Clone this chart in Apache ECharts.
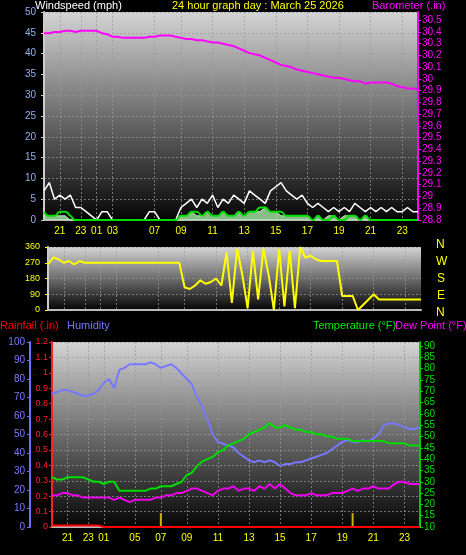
<!DOCTYPE html>
<html><head><meta charset="utf-8">
<script src="https://cdn.jsdelivr.net/npm/echarts@6/dist/echarts.min.js"></script>
<style>html,body{margin:0;padding:0;background:#000}#c{width:466px;height:555px}</style>
</head><body><div id="c"></div>
<script>
const times = ["19:30","20:00","20:30","21:00","21:30","22:00","22:30","23:00","23:40","00:20",
"01:00","01:40","02:20","03:00","03:30","04:00","04:30","05:00","05:30","06:00",
"06:30","07:00","07:30","08:00","08:20","08:40",
"09:00","09:20","09:40","10:00","10:20","10:40","11:00","11:20","11:40","12:00","12:20","12:40",
"13:00","13:20","13:40","14:00","14:20","14:40","15:00","15:20","15:40","16:00","16:20","16:40",
"17:00","17:20","17:40","18:00","18:20","18:40","19:00","19:20","19:40","20:00","20:20","20:40",
"21:00","21:20","21:40","22:00","22:20","22:40","23:00","23:20","23:40","24:00"];
const topLabels = ["21","23","01","03","07","09","11","13","15","17","19","21","23"];
const topLabelIdx = [3,7,10,13,21,26,32,38,44,50,56,62,68];
const botLabels = ["21","23","01","05","07","09","11","13","15","17","19","21","23"];
const botLabelIdx = [3,7,10,16,21,26,32,38,44,50,56,62,68];

const windGust = [7,9,5,6,5,6,3,3,2,1,0,2,2,0,0,0,0,0,0,0,2,2,0,0,0,0,
3,4,5,3,5,4,6,3,5,4,6,5,4,7,6,5,4,7,8,9,7,6,5,6,4,3,4,3,2,3,2,3,2,4,3,2,3,2,3,2,3,2,2,3,2,2];
const windAvg = [2,1,1,2,2,1,0,0,0,0,0,0,0,0,0,0,0,0,0,0,0,0,0,0,0,0,
1,1,2,2,1,2,1,1,2,1,1,2,1,2,2,3,3,2,2,2,1,1,1,1,1,0,1,0,0,1,0,0,1,1,0,1,0,0,0,0,0,0,0,0,0,0];
const windSpeed = [1,1,1,1,1,0,0,0,0,0,0,0,0,0,0,0,0,0,0,0,0,0,0,0,0,0,
1,1,2,1,1,2,1,1,2,1,1,2,1,2,2,2,3,2,2,1,1,1,1,1,1,0,1,0,1,1,0,1,1,1,0,1,0,0,0,0,0,0,0,0,0,0];
const baro = [30.39,30.39,30.40,30.40,30.41,30.41,30.40,30.41,30.41,30.41,
30.41,30.39,30.38,30.36,30.36,30.35,30.35,30.35,30.35,30.35,
30.36,30.36,30.37,30.37,30.37,30.36,
30.35,30.34,30.34,30.33,30.33,30.32,30.31,30.31,30.30,30.29,30.28,30.26,
30.24,30.22,30.21,30.20,30.18,30.16,30.14,30.12,30.11,30.10,30.08,30.07,
30.06,30.05,30.04,30.03,30.02,30.01,30.01,30.00,29.99,29.98,29.98,29.96,
29.97,29.97,29.97,29.97,29.96,29.94,29.93,29.92,29.92,29.91];
const windDir = [260,300,290,270,280,260,280,270,
270,270,270,270,270,270,270,270,270,270,270,270,270,270,270,270,270,270,
130,120,140,170,150,160,180,140,330,40,350,200,10,340,60,350,200,0,
350,20,340,10,360,300,310,290,280,280,280,280,80,80,80,0,30,60,
90,60,60,60,60,60,60,60,60,60];
const humidity = [72,73,74,74,73,72,71,71,72,74,78,80,75,85,86,88,88,88,88,89,88,86,87,88,86,83,
80,77,70,65,58,50,46,45,44,43,40,38,36,35,36,35,36,35,33,34,34,35,35,36,
37,38,39,40,42,44,46,47,46,46,47,46,48,50,55,56,56,55,54,53,53,54];
const temperature = [32,31,31,32,32,32,32,31,30,30,29,30,30,26,26,26,26,26,26,27,27,28,28,28,29,30,
33,34,37,39,40,41,43,44,46,47,48,49,51,52,53,54,56,54,54,55,54,53,53,52,
52,51,51,50,50,49,49,49,48,48,48,48,48,48,48,47,47,47,47,46,46,46];
const dewPoint = [24,24,25,25,24,24,23,23,23,23,23,23,22,23,22,21,22,22,22,22,23,23,24,24,25,25,
26,27,27,26,25,24,26,27,27,28,26,27,27,26,28,27,29,27,29,27,25,24,24,24,
25,24,24,24,25,25,25,26,27,26,27,27,28,27,27,27,29,30,30,29,29,29];
const rainfall = [0.01,0.01,0.01,0.01,0.01,0.01,0.01,0.01,0.01,0,0,0,0,0,0,0,0,0,0,0,0,0,0,0,0,0,
0,0,0,0,0,0,0,0,0,0,0,0,0,0,0,0,0,0,0,0,0,0,0,0,0,0,0,0,0,0,0,0,0,0,0,0,0,0,0,0,0,0,0,0,0,0];
const rainMarks = times.map((t,i)=> (i===21||i===58) ? 0.09 : null);

const bg = {type:'linear',x:0,y:0,x2:0,y2:1,colorStops:[{offset:0,color:'#d4d4d4'},{offset:1,color:'#050505'}]};
const gridLine = {show:true,lineStyle:{color:'#9a9a9a',type:[2,2],width:1,opacity:0.7}};
function xAxis(gi, idxs, labels, show){
  return {type:'category',gridIndex:gi,data:times,boundaryGap:false,
    axisLine:{lineStyle:{color:'#bbb',width:2}},axisTick:{show:false},
    splitLine:Object.assign({},gridLine,{interval:(i)=>idxs.includes(i)}),
    axisLabel:{show:show,color:'#ffff00',fontSize:10,fontFamily:'Arial',margin:6,
      interval:(i)=>idxs.includes(i),formatter:(v,i)=>{const k=idxs.indexOf(i);return k>=0?labels[k]:'';}}};
}
const chart = echarts.init(document.getElementById('c'));
chart.setOption({
  backgroundColor:'#000',animation:false,
  grid:[
    {left:44,right:48,top:12,bottom:335,show:true,backgroundColor:bg,borderWidth:0},
    {left:48,right:45,top:247,bottom:245,show:true,backgroundColor:bg,borderWidth:0},
    {left:52,right:46,top:342,bottom:28,show:true,backgroundColor:bg,borderWidth:0}
  ],
  xAxis:[xAxis(0,topLabelIdx,topLabels,true),xAxis(1,topLabelIdx,topLabels,false),xAxis(2,botLabelIdx,botLabels,true)],
  yAxis:[
    {type:'value',gridIndex:0,position:'left',min:0,max:50,interval:5,axisLine:{show:true,lineStyle:{color:'#ccc',width:2}},
     axisTick:{show:true,length:3,lineStyle:{color:'#ccc'}},axisLabel:{color:'#8fb0f0',fontSize:10,fontFamily:'Arial',margin:8},splitLine:gridLine},
    {type:'value',gridIndex:0,position:'right',min:28.8,max:30.57,interval:0.1,
     axisLine:{show:true,lineStyle:{color:'#ff00ff',width:2}},axisTick:{show:true,length:3,lineStyle:{color:'#ff00ff'}},
     axisLabel:{color:'#ff00ff',fontSize:10,fontFamily:'Arial',showMaxLabel:false,margin:4,formatter:v=>String(+v.toFixed(1))},splitLine:{show:false}},
    {type:'value',gridIndex:1,position:'left',min:0,max:360,interval:90,axisLine:{show:true,lineStyle:{color:'#ccc',width:2}},
     axisTick:{show:true,length:3,lineStyle:{color:'#ff0'}},axisLabel:{color:'#ffff00',fontSize:9,fontFamily:'Arial',margin:8},splitLine:gridLine},
    {type:'value',gridIndex:2,position:'left',min:0,max:100,interval:10,offset:22,axisLine:{show:true,lineStyle:{color:'#7070ff',width:2}},
     axisTick:{show:true,length:3,lineStyle:{color:'#7070ff'}},axisLabel:{color:'#7a7aff',fontSize:10,fontFamily:'Arial',margin:5},splitLine:{show:false}},
    {type:'value',gridIndex:2,position:'left',offset:0,min:0,max:1.2,interval:0.1,axisLine:{show:true,lineStyle:{color:'#ff2020',width:2}},
     axisTick:{show:true,length:3,lineStyle:{color:'#ff2020'}},axisLabel:{color:'#ff2020',fontSize:9,fontFamily:'Arial',margin:4,formatter:v=>String(+v.toFixed(1))},splitLine:gridLine},
    {type:'value',gridIndex:2,position:'right',min:10,max:91.8,interval:5,axisLine:{show:true,lineStyle:{color:'#00cc00',width:2}},
     axisTick:{show:true,length:3,lineStyle:{color:'#00cc00'}},axisLabel:{color:'#00dd00',fontSize:10,fontFamily:'Arial',showMaxLabel:false,margin:4},splitLine:{show:false}}
  ],
  series:[
    {type:'line',xAxisIndex:0,yAxisIndex:0,data:windGust,symbol:'none',lineStyle:{color:'#ffffff',width:1.5}},
    {type:'line',xAxisIndex:0,yAxisIndex:0,data:windSpeed,symbol:'none',lineStyle:{color:'#b8f0b8',width:1},areaStyle:{color:'#a8e8a8',opacity:0.8}},
    {type:'line',xAxisIndex:0,yAxisIndex:0,data:windAvg,symbol:'none',smooth:true,lineStyle:{color:'#00dd00',width:2}},
    {type:'line',xAxisIndex:0,yAxisIndex:1,data:baro,symbol:'none',lineStyle:{color:'#ff00ff',width:2}},
    {type:'line',xAxisIndex:1,yAxisIndex:2,data:windDir,symbol:'none',lineStyle:{color:'#ffff00',width:2}},
    {type:'line',xAxisIndex:2,yAxisIndex:3,data:humidity,symbol:'none',lineStyle:{color:'#7878ff',width:2}},
    {type:'line',xAxisIndex:2,yAxisIndex:5,data:temperature,symbol:'none',lineStyle:{color:'#00dd00',width:2}},
    {type:'line',xAxisIndex:2,yAxisIndex:5,data:dewPoint,symbol:'none',lineStyle:{color:'#ee00ee',width:2}},
    {type:'line',xAxisIndex:2,yAxisIndex:4,data:rainfall,symbol:'none',step:'end',lineStyle:{color:'#ff0000',width:2}},
    {type:'bar',xAxisIndex:2,yAxisIndex:4,data:rainMarks,barWidth:2,itemStyle:{color:'#c8b400'}}
  ],
  graphic:[
    {type:'text',left:35,top:0,style:{text:'Windspeed (mph)',fill:'#fff',font:'11px Arial'}},
    {type:'text',left:172,top:0,style:{text:'24 hour graph day : March 25 2026',fill:'#ffff00',font:'11px Arial'}},
    {type:'text',left:372,top:0,style:{text:'Barometer (.in)',fill:'#ff00ff',font:'11px Arial'}},
    {type:'text',left:436,top:239,style:{text:'N',fill:'#ffff00',font:'12px Arial'}},
    {type:'text',left:436,top:256,style:{text:'W',fill:'#ffff00',font:'12px Arial'}},
    {type:'text',left:437,top:273,style:{text:'S',fill:'#ffff00',font:'12px Arial'}},
    {type:'text',left:437,top:290,style:{text:'E',fill:'#ffff00',font:'12px Arial'}},
    {type:'text',left:436,top:307,style:{text:'N',fill:'#ffff00',font:'12px Arial'}},
    {type:'text',left:0,top:320,style:{text:'Rainfall (.in)',fill:'#ff0000',font:'11px Arial'}},
    {type:'text',left:67,top:320,style:{text:'Humidity',fill:'#7878ff',font:'11px Arial'}},
    {type:'text',left:313,top:320,style:{text:'Temperature (°F)',fill:'#00ee00',font:'11px Arial'}},
    {type:'text',left:395,top:320,style:{text:'Dew Point (°F)',fill:'#ff00ff',font:'11px Arial'}}
  ]
});
</script></body></html>
